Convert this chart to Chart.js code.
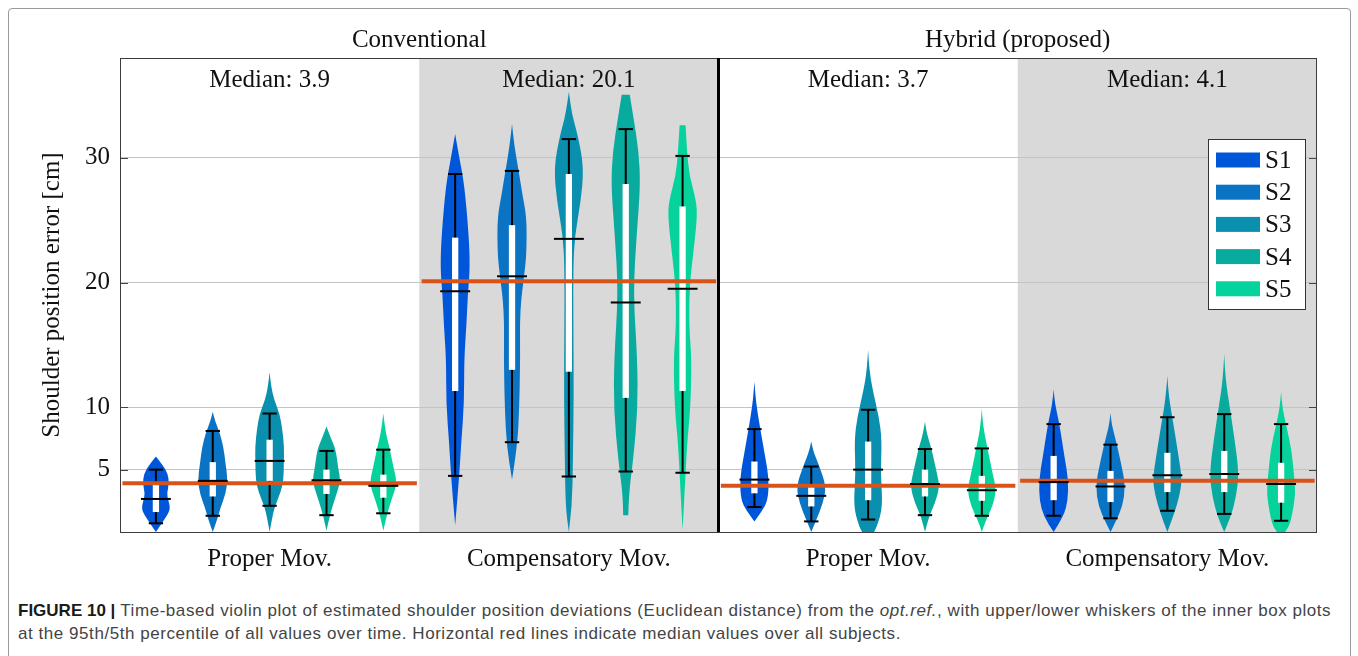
<!DOCTYPE html>
<html>
<head>
<meta charset="utf-8">
<script src="https://cdn.jsdelivr.net/npm/chart.js@4.4.1/dist/chart.umd.min.js"></script>
<style>
  body { margin: 0; background: #fff; width: 1358px; height: 656px; overflow: hidden; position: relative; }
  #frame { position: absolute; left: 8px; top: 8px; width: 1341px; height: 680px; border: 1px solid #9a9a9a; border-radius: 4px; }
  #chartBox { position: absolute; left: 0; top: 0; width: 1358px; height: 590px; }
  #caption { position: absolute; left: 18px; top: 599px; font-family: "Liberation Sans", Arial, sans-serif; font-size: 17px; letter-spacing: 0.55px; line-height: 23px; color: #444; white-space: nowrap; }
  #caption b { color: #1a1a1a; letter-spacing: 0; }
</style>
</head>
<body>
<div id="frame"></div>
<div id="chartBox"><canvas id="violinChart" width="1358" height="590"></canvas></div>
<div id="caption"><b>FIGURE 10 |</b> Time-based violin plot of estimated shoulder position deviations (Euclidean distance) from the <i>opt.ref.</i>, with upper/lower whiskers of the inner box plots<br>at the 95th/5th percentile of all values over time. Horizontal red lines indicate median values over all subjects.</div>
<script>
// ---- data ----
const groupTitles = ["Conventional", "Hybrid (proposed)"];
const movementLabels = ["Proper Mov.", "Compensatory Mov.", "Proper Mov.", "Compensatory Mov."];
const panelMedians = [3.9, 20.1, 3.7, 4.1];
const subjects = ["S1", "S2", "S3", "S4", "S5"];
const subjectColors = ["#0056d8", "#0a73c4", "#0a8faf", "#0aab9f", "#06d39b"];
const yTicks = [5, 10, 20, 30];

// violin outlines: [value, relative density] from bottom to top
const densityConvProper = [
    [[0, 0], [0.95, 0.55], [1.8, 0.98], [2.55, 0.83], [3.1, 0.73], [3.9, 0.89], [4.7, 0.78], [5.35, 0.47], [6.05, 0]],
    [[0, 0], [1.0, 0.3], [2.0, 0.53], [3.0, 0.85], [4.2, 1.0], [5.5, 0.85], [6.8, 0.72], [8.0, 0.45], [8.9, 0.15], [9.65, 0]],
    [[0, 0], [1.0, 0.15], [2.0, 0.33], [3.2, 0.75], [4.2, 0.93], [5.5, 0.95], [6.85, 0.97], [8.2, 0.85], [9.5, 0.67], [10.6, 0.3], [11.7, 0.1], [12.8, 0]],
    [[0.1, 0], [1.2, 0.2], [2.55, 0.53], [3.5, 0.8], [4.2, 0.93], [5.0, 0.8], [6.6, 0.62], [7.5, 0.3], [8.45, 0]],
    [[0.1, 0], [1.2, 0.2], [2.55, 0.53], [3.9, 0.93], [5.2, 0.67], [6.85, 0.4], [8.0, 0.15], [9.5, 0]]
];
const densityConvComp = [
    [[0.55, 0], [4.4, 0.27], [7.1, 0.4], [10.3, 0.6], [13.8, 0.6], [16.5, 0.75], [19.1, 0.85], [21.2, 0.99], [23.8, 0.91], [27.8, 0.62], [30, 0.28], [31.9, 0]],
    [[4.2, 0], [6.85, 0.35], [9.8, 0.48], [13.8, 0.55], [17.8, 0.52], [21.1, 0.87], [22.5, 0.97], [25.2, 0.98], [27, 0.7], [28.9, 0.45], [31, 0.15], [32.7, 0]],
    [[0, 0], [2.0, 0.22], [5.8, 0.27], [11.1, 0.33], [16, 0.3], [21.2, 0.29], [23.8, 0.4], [26.5, 0.8], [29.2, 1.0], [31.8, 0.6], [33.5, 0.2], [35.3, 0]],
    [[1.35, 0.17], [3.1, 0.21], [5.8, 0.5], [9.8, 0.8], [13.8, 0.78], [19.2, 0.5], [23.8, 0.73], [27.8, 0.98], [30.5, 0.87], [33.2, 0.52], [35.05, 0.27]],
    [[0.15, 0], [3.1, 0.13], [7.1, 0.3], [9.8, 0.52], [13.8, 0.61], [16.5, 0.43], [19.8, 0.47], [22.5, 0.73], [25.2, 0.97], [26.5, 0.92], [28.6, 0.45], [30.5, 0.3], [32.6, 0.2]]
];
const densityHybProper = [
    [[0.85, 0], [1.75, 0.55], [2.55, 0.89], [4.2, 0.98], [6.05, 0.72], [8.2, 0.4], [10.05, 0.15], [11.1, 0.06], [12.05, 0]],
    [[0, 0], [0.95, 0.33], [2.3, 0.78], [3.65, 1.0], [5.25, 0.55], [6.4, 0.15], [7.25, 0]],
    [[0, 0.4], [0.45, 0.6], [2.05, 0.98], [4.7, 0.83], [7.4, 0.92], [9.25, 0.72], [11.4, 0.3], [13.0, 0.08], [14.6, 0]],
    [[0, 0], [1.25, 0.27], [2.3, 0.67], [3.65, 0.98], [4.7, 0.8], [6.6, 0.45], [7.9, 0.12], [8.85, 0]],
    [[0, 0], [0.95, 0.27], [2.05, 0.72], [3.35, 0.97], [4.7, 0.72], [6.85, 0.35], [8.5, 0.08], [9.9, 0]]
];
const densityHybComp = [
    [[0, 0], [1.25, 0.67], [2.55, 0.95], [4.2, 0.98], [6.05, 0.72], [8.7, 0.38], [10.3, 0.08], [11.45, 0]],
    [[0, 0], [0.85, 0.35], [2.05, 0.8], [3.65, 1.0], [5.25, 0.75], [7.4, 0.35], [8.6, 0.08], [9.55, 0]],
    [[0, 0], [1.5, 0.47], [2.85, 0.8], [4.2, 0.98], [6.05, 0.75], [8.7, 0.4], [10.8, 0.1], [12.5, 0]],
    [[0, 0], [1.25, 0.45], [2.85, 0.8], [4.7, 0.98], [7.4, 0.7], [10.05, 0.36], [12.3, 0.08], [14.3, 0]],
    [[0, 0.27], [0.45, 0.53], [1.25, 0.72], [3.1, 0.98], [4.7, 0.85], [6.6, 0.7], [8.45, 0.36], [10.0, 0.08], [11.25, 0]]
];

// box stats per subject: [p5, q1, median, q3, p95]
const statsConvProper = [[0.7, 1.6, 2.65, 4.0, 5.0], [1.3, 2.85, 4.1, 5.6, 8.1], [2.1, 4.1, 5.7, 7.4, 9.5], [1.35, 3.05, 4.15, 5.0, 6.5], [1.5, 2.75, 3.7, 4.6, 6.6]];
const statsConvComp = [[4.5, 11.3, 19.3, 23.6, 28.7], [7.2, 13.0, 20.5, 24.6, 28.95], [4.45, 12.85, 23.5, 28.7, 31.5], [4.85, 10.75, 18.4, 27.9, 32.3], [4.75, 11.3, 19.5, 26.1, 30.15]];
const statsHybProper = [[2.0, 3.1, 4.2, 5.65, 8.25], [0.85, 2.05, 2.9, 3.7, 5.25], [1.0, 2.55, 5.0, 7.25, 9.8], [1.35, 2.85, 3.85, 5.0, 6.65], [1.3, 2.5, 3.35, 4.5, 6.7]];
const statsHybComp = [[1.3, 2.55, 4.0, 6.1, 8.65], [1.1, 2.4, 3.65, 4.9, 7.0], [1.7, 3.2, 4.55, 6.35, 9.2], [1.45, 3.2, 4.65, 6.5, 9.45], [0.9, 2.35, 3.85, 5.55, 8.65]];

const panelDensity = [densityConvProper, densityConvComp, densityHybProper, densityHybComp];
const panelStats = [statsConvProper, statsConvComp, statsHybProper, statsHybComp];

// ---- styling ----
const FONT = '"Liberation Serif", "Times New Roman", serif';
const SPACING = 0.19;      // distance between violins inside a panel (x units)
const HALF = 0.05;         // half width of a violin at full density (x units)
const BOX_HALF = 0.0105;
const CAP_HALF = 0.024;
const MED_HALF = 0.05;

function violinX(p, j) {
    return p + 0.5 + (j - 2) * SPACING;
}

function smoothSide(ctx, pts, first) {
    if (first) ctx.moveTo(pts[0][0], pts[0][1]); else ctx.lineTo(pts[0][0], pts[0][1]);
    for (let i = 1; i < pts.length - 1; i++) {
        const mx = (pts[i][0] + pts[i + 1][0]) / 2;
        const my = (pts[i][1] + pts[i + 1][1]) / 2;
        ctx.quadraticCurveTo(pts[i][0], pts[i][1], mx, my);
    }
    const last = pts[pts.length - 1];
    ctx.lineTo(last[0], last[1]);
}

const violinPlugin = {
    id: "violins",
    beforeDraw(chart) {
        const { ctx, chartArea: a, scales: { x } } = chart;
        ctx.save();
        ctx.fillStyle = "#d9d9d9";
        [1, 3].forEach(p => {
            const x0 = x.getPixelForValue(p), x1 = x.getPixelForValue(p + 1);
            ctx.fillRect(x0, a.top, x1 - x0, a.bottom - a.top);
        });
        ctx.restore();
    },
    beforeDatasetsDraw(chart) {
        const { ctx, scales: { x, y } } = chart;
        ctx.save();
        panelDensity.forEach((violins, p) => {
            violins.forEach((prof, j) => {
                const cx = violinX(p, j);
                const right = prof.map(([v, d]) => [x.getPixelForValue(cx + d * HALF), y.getPixelForValue(v)]);
                const left = prof.slice().reverse().map(([v, d]) => [x.getPixelForValue(cx - d * HALF), y.getPixelForValue(v)]);
                ctx.beginPath();
                smoothSide(ctx, right, true);
                smoothSide(ctx, left, false);
                ctx.closePath();
                ctx.fillStyle = subjectColors[j];
                ctx.fill();

                const s = panelStats[p][j];
                const px = x.getPixelForValue(cx);
                ctx.strokeStyle = "#000";
                ctx.lineWidth = 2;
                ctx.beginPath();
                ctx.moveTo(px, y.getPixelForValue(s[0]));
                ctx.lineTo(px, y.getPixelForValue(s[4]));
                ctx.stroke();
                const bx0 = x.getPixelForValue(cx - BOX_HALF), bx1 = x.getPixelForValue(cx + BOX_HALF);
                const by0 = y.getPixelForValue(s[3]), by1 = y.getPixelForValue(s[1]);
                ctx.fillStyle = "#fff";
                ctx.fillRect(bx0, by0, bx1 - bx0, by1 - by0);
            });
        });
        ctx.restore();
    },
    afterDatasetsDraw(chart) {
        const { ctx, scales: { x, y } } = chart;
        ctx.save();
        ctx.strokeStyle = "#000";
        ctx.lineWidth = 2;
        panelStats.forEach((stats, p) => {
            stats.forEach((s, j) => {
                const cx = violinX(p, j);
                const hline = (v, h) => {
                    const py = y.getPixelForValue(v);
                    ctx.beginPath();
                    ctx.moveTo(x.getPixelForValue(cx - h), py);
                    ctx.lineTo(x.getPixelForValue(cx + h), py);
                    ctx.stroke();
                };
                hline(s[0], CAP_HALF);
                hline(s[4], CAP_HALF);
                hline(s[2], MED_HALF);
            });
        });
        ctx.restore();
    },
    afterDraw(chart) {
        const { ctx, chartArea: a, scales: { x, y } } = chart;
        ctx.save();
        // inner tick marks
        ctx.strokeStyle = "#444";
        ctx.lineWidth = 1;
        yTicks.forEach(v => {
            const py = Math.round(y.getPixelForValue(v)) + 0.5;
            ctx.beginPath();
            ctx.moveTo(a.left, py); ctx.lineTo(a.left + 8, py);
            ctx.moveTo(a.right - 8, py); ctx.lineTo(a.right, py);
            ctx.stroke();
        });
        // frame
        ctx.strokeStyle = "#3c3c3c";
        ctx.strokeRect(a.left + 0.5, a.top + 0.5, a.right - a.left - 1, a.bottom - a.top);
        // divider between the two methods
        ctx.strokeStyle = "#000";
        ctx.lineWidth = 3;
        const dx = x.getPixelForValue(2);
        ctx.beginPath();
        ctx.moveTo(dx, a.top); ctx.lineTo(dx, a.bottom);
        ctx.stroke();

        // texts
        ctx.fillStyle = "#111";
        ctx.font = "25px " + FONT;
        ctx.textAlign = "center";
        ctx.textBaseline = "alphabetic";
        groupTitles.forEach((t, g) => ctx.fillText(t, x.getPixelForValue(g * 2 + 1), 46.5));
        panelMedians.forEach((m, p) => ctx.fillText("Median: " + m.toFixed(1), x.getPixelForValue(p + 0.5), 87));
        ctx.save();
        ctx.translate(52, (a.top + a.bottom) / 2);
        ctx.rotate(-Math.PI / 2);
        ctx.textBaseline = "middle";
        ctx.fillText("Shoulder position error [cm]", 0, 0);
        ctx.restore();

        // legend
        const lx = 1208.5, ly = 139.5, lw = 97, lh = 170;
        ctx.fillStyle = "#fff";
        ctx.fillRect(lx, ly, lw, lh);
        ctx.strokeStyle = "#333";
        ctx.lineWidth = 1;
        ctx.strokeRect(lx, ly, lw, lh);
        ctx.textAlign = "left";
        subjects.forEach((name, j) => {
            const cy = 160 + j * 32.2;
            ctx.fillStyle = subjectColors[j];
            ctx.fillRect(1216, cy - 7.5, 44, 15);
            ctx.fillStyle = "#111";
            ctx.fillText(name, 1265, cy + 8);
        });
        ctx.restore();
    }
};

const medianLines = panelMedians.map((m, p) => ({
    data: [{ x: p + 0.008, y: m }, { x: p + 0.992, y: m }],
    borderColor: "#d95319",
    borderWidth: 4,
    borderCapStyle: "butt",
    pointRadius: 0,
    showLine: true
}));

new Chart("violinChart", {
    type: "scatter",
    data: { datasets: medianLines },
    options: {
        responsive: false,
        animation: false,
        events: [],
        layout: { padding: { left: 20, top: 58, right: 41, bottom: 13 } },
        plugins: { legend: { display: false }, tooltip: { enabled: false } },
        scales: {
            x: {
                type: "linear", min: 0, max: 4,
                afterBuildTicks: s => { s.ticks = movementLabels.map((_, i) => ({ value: i + 0.5 })); },
                afterFit: s => { s.height = 45; },
                grid: { display: false },
                border: { display: false },
                ticks: {
                    font: { family: FONT, size: 25 }, color: "#111", padding: 4,
                    maxRotation: 0, autoSkip: false,
                    callback: (v, i) => movementLabels[i]
                }
            },
            y: {
                type: "linear", min: 0, max: 38,
                afterBuildTicks: s => { s.ticks = yTicks.map(v => ({ value: v })); },
                afterFit: s => { s.width = 100; },
                grid: { color: "#c4c4c4", lineWidth: 1, drawTicks: false },
                border: { display: false },
                ticks: { font: { family: FONT, size: 25 }, color: "#111", padding: 10 }
            }
        }
    },
    plugins: [violinPlugin]
});
</script>
</body>
</html>
